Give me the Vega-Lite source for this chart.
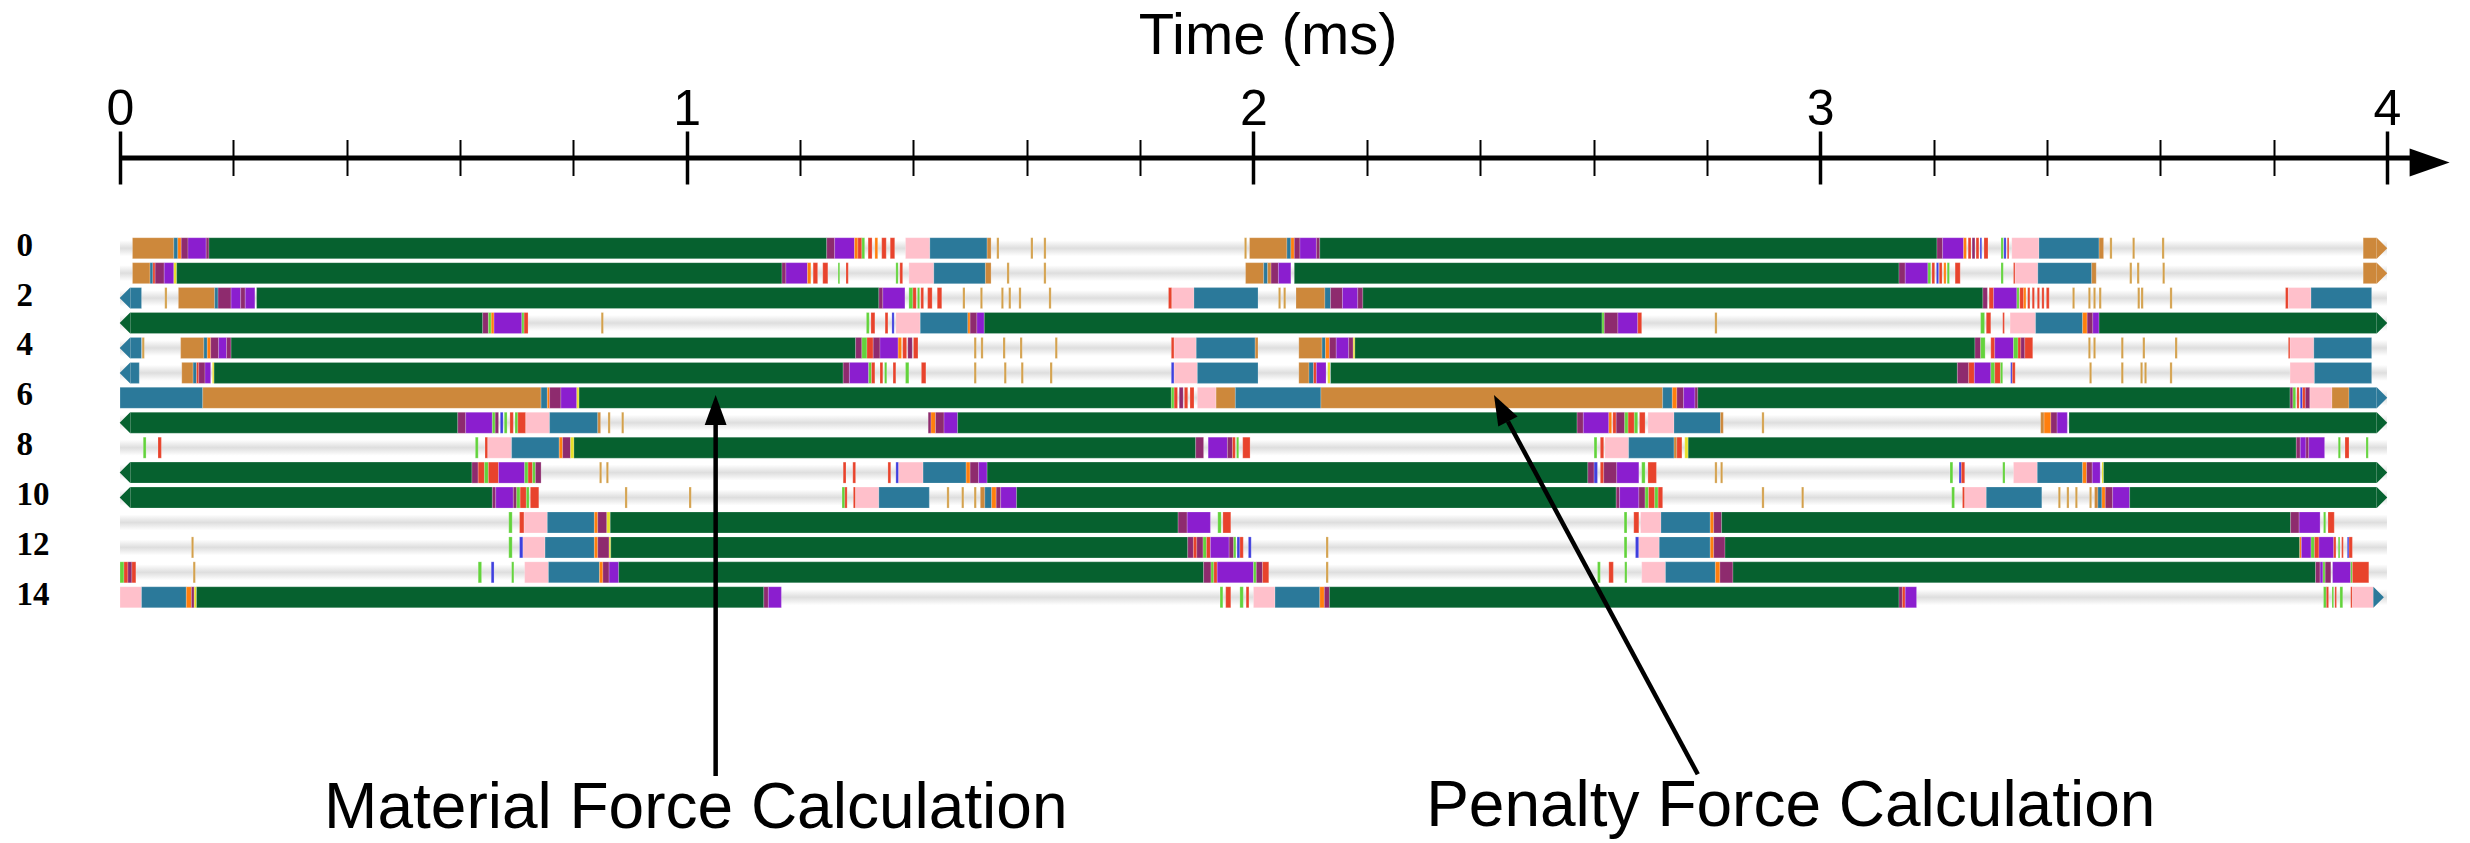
{
  "$schema": "https://vega.github.io/schema/vega-lite/v6.json",
  "width": 2295.3,
  "height": 685.5,
  "autosize": {"type": "none"},
  "padding": {"left": 120, "top": 157.5, "right": 54.7, "bottom": 0},
  "background": "white",
  "config": {"view": {"stroke": null}},
  "datasets": {
    "idle": [
      {"row": 0, "start": 0, "end": 4}, {"row": 1, "start": 0, "end": 4}, {"row": 2, "start": 0, "end": 4},
      {"row": 3, "start": 0, "end": 4}, {"row": 4, "start": 0, "end": 4}, {"row": 5, "start": 0, "end": 4},
      {"row": 6, "start": 0, "end": 4}, {"row": 7, "start": 0, "end": 4}, {"row": 8, "start": 0, "end": 4},
      {"row": 9, "start": 0, "end": 4}, {"row": 10, "start": 0, "end": 4}, {"row": 11, "start": 0, "end": 4},
      {"row": 12, "start": 0, "end": 4}, {"row": 13, "start": 0, "end": 4}, {"row": 14, "start": 0, "end": 4}
    ],
    "tips": [
      {"row": 2, "t": 0.018, "dir": "left", "kind": "teal"},
      {"row": 3, "t": 0.018, "dir": "left", "kind": "green"},
      {"row": 4, "t": 0.018, "dir": "left", "kind": "teal"},
      {"row": 5, "t": 0.018, "dir": "left", "kind": "teal"},
      {"row": 7, "t": 0.018, "dir": "left", "kind": "green"},
      {"row": 9, "t": 0.018, "dir": "left", "kind": "green"},
      {"row": 10, "t": 0.018, "dir": "left", "kind": "green"},
      {"row": 0, "t": 3.982, "dir": "right", "kind": "orange"},
      {"row": 1, "t": 3.982, "dir": "right", "kind": "orange"},
      {"row": 3, "t": 3.982, "dir": "right", "kind": "green"},
      {"row": 6, "t": 3.982, "dir": "right", "kind": "teal"},
      {"row": 7, "t": 3.982, "dir": "right", "kind": "green"},
      {"row": 9, "t": 3.982, "dir": "right", "kind": "green"},
      {"row": 10, "t": 3.982, "dir": "right", "kind": "green"},
      {"row": 14, "t": 3.976, "dir": "right", "kind": "teal"}
    ],
    "notes": [
      {"label": "Material Force Calculation", "tail_t": 1.051, "tail_r": 21.17, "head_t": 1.051, "head_r": 7.09, "text_t": 1.016, "text_r": 23.26},
      {"label": "Penalty Force Calculation", "tail_t": 2.784, "tail_r": 21.1, "head_t": 2.449, "head_r": 6.95, "text_t": 2.948, "text_r": 23.18}
    ],
    "segs": [
      {"row":0,"start":0.022,"end":0.095,"kind":"orange"},
      {"row":0,"start":0.095,"end":0.102,"kind":"teal"},
      {"row":0,"start":0.102,"end":0.108,"kind":"dorange"},
      {"row":0,"start":0.108,"end":0.120,"kind":"maroon"},
      {"row":0,"start":0.120,"end":0.152,"kind":"purple"},
      {"row":0,"start":0.152,"end":0.157,"kind":"maroon"},
      {"row":0,"start":0.157,"end":1.247,"kind":"green"},
      {"row":0,"start":1.247,"end":1.261,"kind":"maroon"},
      {"row":0,"start":1.261,"end":1.296,"kind":"purple"},
      {"row":0,"start":1.296,"end":1.302,"kind":"dorange"},
      {"row":0,"start":1.302,"end":1.309,"kind":"red"},
      {"row":0,"start":1.309,"end":1.314,"kind":"lime"},
      {"row":0,"start":1.320,"end":1.327,"kind":"red"},
      {"row":0,"start":1.332,"end":1.337,"kind":"dorange"},
      {"row":0,"start":1.344,"end":1.352,"kind":"red"},
      {"row":0,"start":1.359,"end":1.367,"kind":"red"},
      {"row":0,"start":1.386,"end":1.429,"kind":"pink"},
      {"row":0,"start":1.429,"end":1.530,"kind":"teal"},
      {"row":0,"start":1.530,"end":1.537,"kind":"orange"},
      {"row":0,"start":1.547,"end":1.551,"kind":"stick"},
      {"row":0,"start":1.607,"end":1.611,"kind":"stick"},
      {"row":0,"start":1.630,"end":1.634,"kind":"stick"},
      {"row":0,"start":1.984,"end":1.988,"kind":"stick"},
      {"row":0,"start":1.993,"end":2.059,"kind":"orange"},
      {"row":0,"start":2.059,"end":2.066,"kind":"teal"},
      {"row":0,"start":2.066,"end":2.072,"kind":"dorange"},
      {"row":0,"start":2.072,"end":2.082,"kind":"maroon"},
      {"row":0,"start":2.082,"end":2.111,"kind":"purple"},
      {"row":0,"start":2.111,"end":2.117,"kind":"maroon"},
      {"row":0,"start":2.117,"end":3.206,"kind":"green"},
      {"row":0,"start":3.206,"end":3.216,"kind":"maroon"},
      {"row":0,"start":3.216,"end":3.253,"kind":"purple"},
      {"row":0,"start":3.253,"end":3.258,"kind":"dorange"},
      {"row":0,"start":3.261,"end":3.266,"kind":"red"},
      {"row":0,"start":3.268,"end":3.273,"kind":"maroon"},
      {"row":0,"start":3.275,"end":3.280,"kind":"red"},
      {"row":0,"start":3.282,"end":3.285,"kind":"blue"},
      {"row":0,"start":3.289,"end":3.296,"kind":"red"},
      {"row":0,"start":3.319,"end":3.323,"kind":"lime"},
      {"row":0,"start":3.324,"end":3.328,"kind":"blue"},
      {"row":0,"start":3.330,"end":3.333,"kind":"red"},
      {"row":0,"start":3.338,"end":3.386,"kind":"pink"},
      {"row":0,"start":3.386,"end":3.492,"kind":"teal"},
      {"row":0,"start":3.492,"end":3.500,"kind":"orange"},
      {"row":0,"start":3.511,"end":3.515,"kind":"stick"},
      {"row":0,"start":3.551,"end":3.555,"kind":"stick"},
      {"row":0,"start":3.603,"end":3.607,"kind":"stick"},
      {"row":0,"start":3.958,"end":3.982,"kind":"orange"},

      {"row":1,"start":0.022,"end":0.053,"kind":"orange"},
      {"row":1,"start":0.053,"end":0.058,"kind":"teal"},
      {"row":1,"start":0.058,"end":0.062,"kind":"red"},
      {"row":1,"start":0.062,"end":0.078,"kind":"maroon"},
      {"row":1,"start":0.078,"end":0.095,"kind":"purple"},
      {"row":1,"start":0.095,"end":0.100,"kind":"yellow"},
      {"row":1,"start":0.100,"end":1.168,"kind":"green"},
      {"row":1,"start":1.168,"end":1.175,"kind":"maroon"},
      {"row":1,"start":1.175,"end":1.213,"kind":"purple"},
      {"row":1,"start":1.213,"end":1.219,"kind":"dorange"},
      {"row":1,"start":1.223,"end":1.231,"kind":"red"},
      {"row":1,"start":1.240,"end":1.249,"kind":"red"},
      {"row":1,"start":1.267,"end":1.270,"kind":"lime"},
      {"row":1,"start":1.281,"end":1.285,"kind":"red"},
      {"row":1,"start":1.369,"end":1.373,"kind":"lime"},
      {"row":1,"start":1.376,"end":1.381,"kind":"red"},
      {"row":1,"start":1.392,"end":1.436,"kind":"pink"},
      {"row":1,"start":1.436,"end":1.527,"kind":"teal"},
      {"row":1,"start":1.527,"end":1.537,"kind":"orange"},
      {"row":1,"start":1.565,"end":1.569,"kind":"stick"},
      {"row":1,"start":1.630,"end":1.634,"kind":"stick"},
      {"row":1,"start":1.986,"end":2.018,"kind":"orange"},
      {"row":1,"start":2.018,"end":2.025,"kind":"teal"},
      {"row":1,"start":2.025,"end":2.031,"kind":"orange"},
      {"row":1,"start":2.031,"end":2.044,"kind":"maroon"},
      {"row":1,"start":2.044,"end":2.066,"kind":"purple"},
      {"row":1,"start":2.072,"end":3.139,"kind":"green"},
      {"row":1,"start":3.139,"end":3.150,"kind":"maroon"},
      {"row":1,"start":3.150,"end":3.190,"kind":"purple"},
      {"row":1,"start":3.190,"end":3.195,"kind":"lime"},
      {"row":1,"start":3.197,"end":3.202,"kind":"red"},
      {"row":1,"start":3.205,"end":3.209,"kind":"blue"},
      {"row":1,"start":3.210,"end":3.215,"kind":"red"},
      {"row":1,"start":3.218,"end":3.222,"kind":"dorange"},
      {"row":1,"start":3.224,"end":3.228,"kind":"lime"},
      {"row":1,"start":3.238,"end":3.247,"kind":"red"},
      {"row":1,"start":3.319,"end":3.323,"kind":"lime"},
      {"row":1,"start":3.341,"end":3.344,"kind":"red"},
      {"row":1,"start":3.344,"end":3.384,"kind":"pink"},
      {"row":1,"start":3.384,"end":3.479,"kind":"teal"},
      {"row":1,"start":3.479,"end":3.487,"kind":"orange"},
      {"row":1,"start":3.546,"end":3.550,"kind":"stick"},
      {"row":1,"start":3.559,"end":3.563,"kind":"stick"},
      {"row":1,"start":3.604,"end":3.608,"kind":"stick"},
      {"row":1,"start":3.958,"end":3.982,"kind":"orange"},

      {"row":2,"start":0.018,"end":0.038,"kind":"teal"},
      {"row":2,"start":0.079,"end":0.083,"kind":"stick"},
      {"row":2,"start":0.103,"end":0.167,"kind":"orange"},
      {"row":2,"start":0.167,"end":0.173,"kind":"teal"},
      {"row":2,"start":0.173,"end":0.196,"kind":"maroon"},
      {"row":2,"start":0.196,"end":0.213,"kind":"purple"},
      {"row":2,"start":0.213,"end":0.221,"kind":"maroon"},
      {"row":2,"start":0.221,"end":0.238,"kind":"purple"},
      {"row":2,"start":0.241,"end":1.339,"kind":"green"},
      {"row":2,"start":1.339,"end":1.346,"kind":"maroon"},
      {"row":2,"start":1.346,"end":1.385,"kind":"purple"},
      {"row":2,"start":1.392,"end":1.399,"kind":"lime"},
      {"row":2,"start":1.399,"end":1.405,"kind":"red"},
      {"row":2,"start":1.407,"end":1.411,"kind":"lime"},
      {"row":2,"start":1.413,"end":1.418,"kind":"red"},
      {"row":2,"start":1.425,"end":1.433,"kind":"red"},
      {"row":2,"start":1.442,"end":1.450,"kind":"red"},
      {"row":2,"start":1.487,"end":1.491,"kind":"stick"},
      {"row":2,"start":1.518,"end":1.522,"kind":"stick"},
      {"row":2,"start":1.555,"end":1.559,"kind":"stick"},
      {"row":2,"start":1.568,"end":1.572,"kind":"stick"},
      {"row":2,"start":1.586,"end":1.590,"kind":"stick"},
      {"row":2,"start":1.639,"end":1.643,"kind":"stick"},
      {"row":2,"start":1.850,"end":1.856,"kind":"red"},
      {"row":2,"start":1.856,"end":1.895,"kind":"pink"},
      {"row":2,"start":1.895,"end":2.008,"kind":"teal"},
      {"row":2,"start":2.044,"end":2.048,"kind":"stick"},
      {"row":2,"start":2.053,"end":2.057,"kind":"stick"},
      {"row":2,"start":2.075,"end":2.126,"kind":"orange"},
      {"row":2,"start":2.126,"end":2.136,"kind":"teal"},
      {"row":2,"start":2.136,"end":2.157,"kind":"maroon"},
      {"row":2,"start":2.157,"end":2.184,"kind":"purple"},
      {"row":2,"start":2.184,"end":2.193,"kind":"maroon"},
      {"row":2,"start":2.193,"end":3.287,"kind":"green"},
      {"row":2,"start":3.287,"end":3.295,"kind":"maroon"},
      {"row":2,"start":3.298,"end":3.306,"kind":"red"},
      {"row":2,"start":3.306,"end":3.347,"kind":"purple"},
      {"row":2,"start":3.347,"end":3.351,"kind":"lime"},
      {"row":2,"start":3.352,"end":3.359,"kind":"red"},
      {"row":2,"start":3.359,"end":3.363,"kind":"dorange"},
      {"row":2,"start":3.366,"end":3.370,"kind":"red"},
      {"row":2,"start":3.374,"end":3.378,"kind":"red"},
      {"row":2,"start":3.383,"end":3.387,"kind":"red"},
      {"row":2,"start":3.391,"end":3.395,"kind":"red"},
      {"row":2,"start":3.399,"end":3.404,"kind":"red"},
      {"row":2,"start":3.445,"end":3.449,"kind":"stick"},
      {"row":2,"start":3.473,"end":3.477,"kind":"stick"},
      {"row":2,"start":3.482,"end":3.486,"kind":"stick"},
      {"row":2,"start":3.492,"end":3.496,"kind":"stick"},
      {"row":2,"start":3.560,"end":3.564,"kind":"stick"},
      {"row":2,"start":3.566,"end":3.570,"kind":"stick"},
      {"row":2,"start":3.617,"end":3.621,"kind":"stick"},
      {"row":2,"start":3.821,"end":3.826,"kind":"red"},
      {"row":2,"start":3.826,"end":3.866,"kind":"pink"},
      {"row":2,"start":3.866,"end":3.973,"kind":"teal"},

      {"row":3,"start":0.018,"end":0.640,"kind":"green"},
      {"row":3,"start":0.640,"end":0.650,"kind":"maroon"},
      {"row":3,"start":0.650,"end":0.655,"kind":"lime"},
      {"row":3,"start":0.655,"end":0.660,"kind":"dorange"},
      {"row":3,"start":0.660,"end":0.709,"kind":"purple"},
      {"row":3,"start":0.709,"end":0.713,"kind":"lime"},
      {"row":3,"start":0.713,"end":0.720,"kind":"red"},
      {"row":3,"start":0.849,"end":0.853,"kind":"stick"},
      {"row":3,"start":1.317,"end":1.322,"kind":"lime"},
      {"row":3,"start":1.325,"end":1.332,"kind":"red"},
      {"row":3,"start":1.350,"end":1.355,"kind":"red"},
      {"row":3,"start":1.362,"end":1.366,"kind":"blue"},
      {"row":3,"start":1.369,"end":1.412,"kind":"pink"},
      {"row":3,"start":1.412,"end":1.496,"kind":"teal"},
      {"row":3,"start":1.496,"end":1.500,"kind":"dorange"},
      {"row":3,"start":1.500,"end":1.512,"kind":"maroon"},
      {"row":3,"start":1.512,"end":1.525,"kind":"purple"},
      {"row":3,"start":1.525,"end":2.615,"kind":"green"},
      {"row":3,"start":2.615,"end":2.619,"kind":"lime"},
      {"row":3,"start":2.619,"end":2.643,"kind":"maroon"},
      {"row":3,"start":2.643,"end":2.678,"kind":"purple"},
      {"row":3,"start":2.678,"end":2.685,"kind":"red"},
      {"row":3,"start":2.814,"end":2.818,"kind":"stick"},
      {"row":3,"start":3.283,"end":3.290,"kind":"lime"},
      {"row":3,"start":3.293,"end":3.301,"kind":"red"},
      {"row":3,"start":3.322,"end":3.325,"kind":"red"},
      {"row":3,"start":3.335,"end":3.380,"kind":"pink"},
      {"row":3,"start":3.380,"end":3.463,"kind":"teal"},
      {"row":3,"start":3.463,"end":3.471,"kind":"dorange"},
      {"row":3,"start":3.471,"end":3.481,"kind":"maroon"},
      {"row":3,"start":3.481,"end":3.492,"kind":"purple"},
      {"row":3,"start":3.492,"end":3.982,"kind":"green"},

      {"row":4,"start":0.018,"end":0.038,"kind":"teal"},
      {"row":4,"start":0.039,"end":0.043,"kind":"stick"},
      {"row":4,"start":0.107,"end":0.148,"kind":"orange"},
      {"row":4,"start":0.148,"end":0.154,"kind":"teal"},
      {"row":4,"start":0.154,"end":0.160,"kind":"dorange"},
      {"row":4,"start":0.160,"end":0.174,"kind":"maroon"},
      {"row":4,"start":0.174,"end":0.188,"kind":"purple"},
      {"row":4,"start":0.188,"end":0.196,"kind":"maroon"},
      {"row":4,"start":0.196,"end":1.298,"kind":"green"},
      {"row":4,"start":1.298,"end":1.309,"kind":"maroon"},
      {"row":4,"start":1.309,"end":1.318,"kind":"lime"},
      {"row":4,"start":1.318,"end":1.329,"kind":"red"},
      {"row":4,"start":1.329,"end":1.341,"kind":"maroon"},
      {"row":4,"start":1.341,"end":1.373,"kind":"purple"},
      {"row":4,"start":1.373,"end":1.379,"kind":"dorange"},
      {"row":4,"start":1.381,"end":1.388,"kind":"red"},
      {"row":4,"start":1.390,"end":1.398,"kind":"maroon"},
      {"row":4,"start":1.400,"end":1.408,"kind":"red"},
      {"row":4,"start":1.507,"end":1.511,"kind":"stick"},
      {"row":4,"start":1.519,"end":1.523,"kind":"stick"},
      {"row":4,"start":1.558,"end":1.562,"kind":"stick"},
      {"row":4,"start":1.588,"end":1.592,"kind":"stick"},
      {"row":4,"start":1.650,"end":1.654,"kind":"stick"},
      {"row":4,"start":1.855,"end":1.860,"kind":"red"},
      {"row":4,"start":1.860,"end":1.899,"kind":"pink"},
      {"row":4,"start":1.899,"end":2.003,"kind":"teal"},
      {"row":4,"start":2.003,"end":2.008,"kind":"orange"},
      {"row":4,"start":2.080,"end":2.121,"kind":"orange"},
      {"row":4,"start":2.121,"end":2.127,"kind":"teal"},
      {"row":4,"start":2.127,"end":2.134,"kind":"dorange"},
      {"row":4,"start":2.134,"end":2.146,"kind":"maroon"},
      {"row":4,"start":2.146,"end":2.168,"kind":"purple"},
      {"row":4,"start":2.168,"end":2.176,"kind":"maroon"},
      {"row":4,"start":2.176,"end":2.179,"kind":"yellow"},
      {"row":4,"start":2.179,"end":3.273,"kind":"green"},
      {"row":4,"start":3.273,"end":3.283,"kind":"maroon"},
      {"row":4,"start":3.283,"end":3.291,"kind":"lime"},
      {"row":4,"start":3.301,"end":3.308,"kind":"red"},
      {"row":4,"start":3.308,"end":3.341,"kind":"purple"},
      {"row":4,"start":3.341,"end":3.349,"kind":"lime"},
      {"row":4,"start":3.349,"end":3.354,"kind":"red"},
      {"row":4,"start":3.354,"end":3.361,"kind":"maroon"},
      {"row":4,"start":3.361,"end":3.375,"kind":"red"},
      {"row":4,"start":3.473,"end":3.477,"kind":"stick"},
      {"row":4,"start":3.482,"end":3.486,"kind":"stick"},
      {"row":4,"start":3.531,"end":3.535,"kind":"stick"},
      {"row":4,"start":3.569,"end":3.573,"kind":"stick"},
      {"row":4,"start":3.626,"end":3.630,"kind":"stick"},
      {"row":4,"start":3.826,"end":3.829,"kind":"red"},
      {"row":4,"start":3.829,"end":3.871,"kind":"pink"},
      {"row":4,"start":3.871,"end":3.973,"kind":"teal"},

      {"row":5,"start":0.018,"end":0.034,"kind":"teal"},
      {"row":5,"start":0.109,"end":0.129,"kind":"orange"},
      {"row":5,"start":0.129,"end":0.135,"kind":"teal"},
      {"row":5,"start":0.135,"end":0.139,"kind":"red"},
      {"row":5,"start":0.139,"end":0.150,"kind":"maroon"},
      {"row":5,"start":0.150,"end":0.160,"kind":"purple"},
      {"row":5,"start":0.163,"end":0.166,"kind":"yellow"},
      {"row":5,"start":0.166,"end":1.276,"kind":"green"},
      {"row":5,"start":1.276,"end":1.287,"kind":"maroon"},
      {"row":5,"start":1.287,"end":1.321,"kind":"purple"},
      {"row":5,"start":1.321,"end":1.326,"kind":"lime"},
      {"row":5,"start":1.326,"end":1.332,"kind":"red"},
      {"row":5,"start":1.341,"end":1.346,"kind":"red"},
      {"row":5,"start":1.349,"end":1.353,"kind":"lime"},
      {"row":5,"start":1.364,"end":1.369,"kind":"red"},
      {"row":5,"start":1.386,"end":1.392,"kind":"lime"},
      {"row":5,"start":1.414,"end":1.422,"kind":"red"},
      {"row":5,"start":1.507,"end":1.511,"kind":"stick"},
      {"row":5,"start":1.560,"end":1.564,"kind":"stick"},
      {"row":5,"start":1.590,"end":1.594,"kind":"stick"},
      {"row":5,"start":1.641,"end":1.645,"kind":"stick"},
      {"row":5,"start":1.855,"end":1.860,"kind":"blue"},
      {"row":5,"start":1.860,"end":1.901,"kind":"pink"},
      {"row":5,"start":1.901,"end":2.008,"kind":"teal"},
      {"row":5,"start":2.080,"end":2.098,"kind":"orange"},
      {"row":5,"start":2.098,"end":2.106,"kind":"teal"},
      {"row":5,"start":2.106,"end":2.111,"kind":"red"},
      {"row":5,"start":2.111,"end":2.128,"kind":"purple"},
      {"row":5,"start":2.131,"end":2.135,"kind":"yellow"},
      {"row":5,"start":2.136,"end":3.242,"kind":"green"},
      {"row":5,"start":3.242,"end":3.262,"kind":"maroon"},
      {"row":5,"start":3.262,"end":3.272,"kind":"red"},
      {"row":5,"start":3.272,"end":3.301,"kind":"purple"},
      {"row":5,"start":3.301,"end":3.308,"kind":"lime"},
      {"row":5,"start":3.308,"end":3.318,"kind":"red"},
      {"row":5,"start":3.318,"end":3.322,"kind":"lime"},
      {"row":5,"start":3.336,"end":3.339,"kind":"blue"},
      {"row":5,"start":3.339,"end":3.344,"kind":"red"},
      {"row":5,"start":3.475,"end":3.479,"kind":"stick"},
      {"row":5,"start":3.531,"end":3.535,"kind":"stick"},
      {"row":5,"start":3.565,"end":3.569,"kind":"stick"},
      {"row":5,"start":3.572,"end":3.576,"kind":"stick"},
      {"row":5,"start":3.617,"end":3.621,"kind":"stick"},
      {"row":5,"start":3.829,"end":3.872,"kind":"pink"},
      {"row":5,"start":3.872,"end":3.973,"kind":"teal"},

      {"row":6,"start":0.000,"end":0.146,"kind":"teal"},
      {"row":6,"start":0.146,"end":0.743,"kind":"orange"},
      {"row":6,"start":0.743,"end":0.754,"kind":"teal"},
      {"row":6,"start":0.754,"end":0.758,"kind":"dorange"},
      {"row":6,"start":0.758,"end":0.778,"kind":"maroon"},
      {"row":6,"start":0.778,"end":0.806,"kind":"purple"},
      {"row":6,"start":0.806,"end":0.810,"kind":"yellow"},
      {"row":6,"start":0.810,"end":1.855,"kind":"green"},
      {"row":6,"start":1.855,"end":1.860,"kind":"lime"},
      {"row":6,"start":1.860,"end":1.866,"kind":"red"},
      {"row":6,"start":1.869,"end":1.876,"kind":"maroon"},
      {"row":6,"start":1.878,"end":1.884,"kind":"red"},
      {"row":6,"start":1.888,"end":1.895,"kind":"red"},
      {"row":6,"start":1.901,"end":1.934,"kind":"pink"},
      {"row":6,"start":1.934,"end":1.968,"kind":"orange"},
      {"row":6,"start":1.968,"end":2.119,"kind":"teal"},
      {"row":6,"start":2.119,"end":2.722,"kind":"orange"},
      {"row":6,"start":2.722,"end":2.739,"kind":"teal"},
      {"row":6,"start":2.739,"end":2.747,"kind":"dorange"},
      {"row":6,"start":2.747,"end":2.759,"kind":"maroon"},
      {"row":6,"start":2.759,"end":2.779,"kind":"purple"},
      {"row":6,"start":2.779,"end":2.784,"kind":"maroon"},
      {"row":6,"start":2.784,"end":3.829,"kind":"green"},
      {"row":6,"start":3.829,"end":3.834,"kind":"maroon"},
      {"row":6,"start":3.834,"end":3.839,"kind":"lime"},
      {"row":6,"start":3.841,"end":3.845,"kind":"red"},
      {"row":6,"start":3.847,"end":3.851,"kind":"blue"},
      {"row":6,"start":3.851,"end":3.856,"kind":"red"},
      {"row":6,"start":3.856,"end":3.864,"kind":"maroon"},
      {"row":6,"start":3.864,"end":3.903,"kind":"pink"},
      {"row":6,"start":3.903,"end":3.933,"kind":"orange"},
      {"row":6,"start":3.933,"end":3.982,"kind":"teal"},

      {"row":7,"start":0.018,"end":0.596,"kind":"green"},
      {"row":7,"start":0.596,"end":0.610,"kind":"maroon"},
      {"row":7,"start":0.610,"end":0.657,"kind":"purple"},
      {"row":7,"start":0.657,"end":0.662,"kind":"lime"},
      {"row":7,"start":0.662,"end":0.668,"kind":"maroon"},
      {"row":7,"start":0.671,"end":0.676,"kind":"blue"},
      {"row":7,"start":0.678,"end":0.683,"kind":"lime"},
      {"row":7,"start":0.688,"end":0.694,"kind":"red"},
      {"row":7,"start":0.697,"end":0.702,"kind":"lime"},
      {"row":7,"start":0.702,"end":0.716,"kind":"red"},
      {"row":7,"start":0.716,"end":0.758,"kind":"pink"},
      {"row":7,"start":0.758,"end":0.843,"kind":"teal"},
      {"row":7,"start":0.843,"end":0.848,"kind":"orange"},
      {"row":7,"start":0.861,"end":0.865,"kind":"stick"},
      {"row":7,"start":0.885,"end":0.889,"kind":"stick"},
      {"row":7,"start":1.426,"end":1.431,"kind":"maroon"},
      {"row":7,"start":1.431,"end":1.439,"kind":"dorange"},
      {"row":7,"start":1.439,"end":1.454,"kind":"maroon"},
      {"row":7,"start":1.454,"end":1.478,"kind":"purple"},
      {"row":7,"start":1.478,"end":2.571,"kind":"green"},
      {"row":7,"start":2.571,"end":2.582,"kind":"maroon"},
      {"row":7,"start":2.582,"end":2.627,"kind":"purple"},
      {"row":7,"start":2.627,"end":2.632,"kind":"dorange"},
      {"row":7,"start":2.634,"end":2.640,"kind":"red"},
      {"row":7,"start":2.640,"end":2.655,"kind":"maroon"},
      {"row":7,"start":2.655,"end":2.661,"kind":"lime"},
      {"row":7,"start":2.661,"end":2.672,"kind":"red"},
      {"row":7,"start":2.672,"end":2.678,"kind":"lime"},
      {"row":7,"start":2.681,"end":2.691,"kind":"red"},
      {"row":7,"start":2.696,"end":2.742,"kind":"pink"},
      {"row":7,"start":2.742,"end":2.824,"kind":"teal"},
      {"row":7,"start":2.824,"end":2.829,"kind":"orange"},
      {"row":7,"start":2.897,"end":2.901,"kind":"stick"},
      {"row":7,"start":3.389,"end":3.395,"kind":"orange"},
      {"row":7,"start":3.395,"end":3.407,"kind":"dorange"},
      {"row":7,"start":3.407,"end":3.418,"kind":"maroon"},
      {"row":7,"start":3.418,"end":3.436,"kind":"purple"},
      {"row":7,"start":3.439,"end":3.982,"kind":"green"},

      {"row":8,"start":0.041,"end":0.046,"kind":"lime"},
      {"row":8,"start":0.067,"end":0.073,"kind":"red"},
      {"row":8,"start":0.627,"end":0.632,"kind":"lime"},
      {"row":8,"start":0.644,"end":0.649,"kind":"red"},
      {"row":8,"start":0.649,"end":0.691,"kind":"pink"},
      {"row":8,"start":0.691,"end":0.775,"kind":"teal"},
      {"row":8,"start":0.775,"end":0.781,"kind":"dorange"},
      {"row":8,"start":0.781,"end":0.795,"kind":"maroon"},
      {"row":8,"start":0.795,"end":0.801,"kind":"yellow"},
      {"row":8,"start":0.801,"end":1.898,"kind":"green"},
      {"row":8,"start":1.898,"end":1.912,"kind":"maroon"},
      {"row":8,"start":1.920,"end":1.954,"kind":"purple"},
      {"row":8,"start":1.954,"end":1.963,"kind":"maroon"},
      {"row":8,"start":1.963,"end":1.968,"kind":"red"},
      {"row":8,"start":1.970,"end":1.974,"kind":"lime"},
      {"row":8,"start":1.981,"end":1.994,"kind":"red"},
      {"row":8,"start":2.601,"end":2.606,"kind":"lime"},
      {"row":8,"start":2.612,"end":2.618,"kind":"red"},
      {"row":8,"start":2.620,"end":2.662,"kind":"pink"},
      {"row":8,"start":2.662,"end":2.742,"kind":"teal"},
      {"row":8,"start":2.742,"end":2.747,"kind":"orange"},
      {"row":8,"start":2.747,"end":2.756,"kind":"red"},
      {"row":8,"start":2.761,"end":2.767,"kind":"yellow"},
      {"row":8,"start":2.767,"end":3.840,"kind":"green"},
      {"row":8,"start":3.840,"end":3.847,"kind":"maroon"},
      {"row":8,"start":3.847,"end":3.857,"kind":"purple"},
      {"row":8,"start":3.857,"end":3.862,"kind":"maroon"},
      {"row":8,"start":3.862,"end":3.890,"kind":"purple"},
      {"row":8,"start":3.914,"end":3.918,"kind":"lime"},
      {"row":8,"start":3.926,"end":3.933,"kind":"red"},
      {"row":8,"start":3.963,"end":3.967,"kind":"lime"},

      {"row":9,"start":0.018,"end":0.621,"kind":"green"},
      {"row":9,"start":0.621,"end":0.632,"kind":"maroon"},
      {"row":9,"start":0.632,"end":0.643,"kind":"red"},
      {"row":9,"start":0.643,"end":0.650,"kind":"lime"},
      {"row":9,"start":0.650,"end":0.668,"kind":"red"},
      {"row":9,"start":0.668,"end":0.714,"kind":"purple"},
      {"row":9,"start":0.714,"end":0.720,"kind":"lime"},
      {"row":9,"start":0.720,"end":0.728,"kind":"red"},
      {"row":9,"start":0.728,"end":0.733,"kind":"lime"},
      {"row":9,"start":0.733,"end":0.743,"kind":"maroon"},
      {"row":9,"start":0.846,"end":0.850,"kind":"stick"},
      {"row":9,"start":0.858,"end":0.862,"kind":"stick"},
      {"row":9,"start":1.276,"end":1.281,"kind":"red"},
      {"row":9,"start":1.293,"end":1.298,"kind":"red"},
      {"row":9,"start":1.355,"end":1.360,"kind":"red"},
      {"row":9,"start":1.369,"end":1.374,"kind":"blue"},
      {"row":9,"start":1.374,"end":1.417,"kind":"pink"},
      {"row":9,"start":1.417,"end":1.493,"kind":"teal"},
      {"row":9,"start":1.493,"end":1.500,"kind":"dorange"},
      {"row":9,"start":1.500,"end":1.515,"kind":"maroon"},
      {"row":9,"start":1.515,"end":1.530,"kind":"purple"},
      {"row":9,"start":1.530,"end":2.590,"kind":"green"},
      {"row":9,"start":2.590,"end":2.601,"kind":"maroon"},
      {"row":9,"start":2.601,"end":2.607,"kind":"blue"},
      {"row":9,"start":2.612,"end":2.618,"kind":"red"},
      {"row":9,"start":2.618,"end":2.641,"kind":"maroon"},
      {"row":9,"start":2.641,"end":2.680,"kind":"purple"},
      {"row":9,"start":2.685,"end":2.691,"kind":"lime"},
      {"row":9,"start":2.696,"end":2.711,"kind":"red"},
      {"row":9,"start":2.814,"end":2.818,"kind":"stick"},
      {"row":9,"start":2.824,"end":2.828,"kind":"stick"},
      {"row":9,"start":3.229,"end":3.234,"kind":"lime"},
      {"row":9,"start":3.245,"end":3.249,"kind":"blue"},
      {"row":9,"start":3.249,"end":3.255,"kind":"red"},
      {"row":9,"start":3.322,"end":3.326,"kind":"lime"},
      {"row":9,"start":3.341,"end":3.383,"kind":"pink"},
      {"row":9,"start":3.383,"end":3.463,"kind":"teal"},
      {"row":9,"start":3.463,"end":3.470,"kind":"dorange"},
      {"row":9,"start":3.470,"end":3.480,"kind":"maroon"},
      {"row":9,"start":3.480,"end":3.494,"kind":"purple"},
      {"row":9,"start":3.497,"end":3.500,"kind":"yellow"},
      {"row":9,"start":3.500,"end":3.982,"kind":"green"},

      {"row":10,"start":0.018,"end":0.657,"kind":"green"},
      {"row":10,"start":0.657,"end":0.663,"kind":"maroon"},
      {"row":10,"start":0.663,"end":0.694,"kind":"purple"},
      {"row":10,"start":0.694,"end":0.700,"kind":"maroon"},
      {"row":10,"start":0.700,"end":0.706,"kind":"lime"},
      {"row":10,"start":0.706,"end":0.717,"kind":"red"},
      {"row":10,"start":0.717,"end":0.722,"kind":"lime"},
      {"row":10,"start":0.724,"end":0.739,"kind":"red"},
      {"row":10,"start":0.891,"end":0.895,"kind":"stick"},
      {"row":10,"start":1.004,"end":1.008,"kind":"stick"},
      {"row":10,"start":1.274,"end":1.279,"kind":"lime"},
      {"row":10,"start":1.279,"end":1.283,"kind":"red"},
      {"row":10,"start":1.294,"end":1.298,"kind":"red"},
      {"row":10,"start":1.298,"end":1.339,"kind":"pink"},
      {"row":10,"start":1.339,"end":1.428,"kind":"teal"},
      {"row":10,"start":1.459,"end":1.463,"kind":"stick"},
      {"row":10,"start":1.485,"end":1.489,"kind":"stick"},
      {"row":10,"start":1.507,"end":1.511,"kind":"stick"},
      {"row":10,"start":1.518,"end":1.526,"kind":"orange"},
      {"row":10,"start":1.526,"end":1.538,"kind":"teal"},
      {"row":10,"start":1.538,"end":1.546,"kind":"dorange"},
      {"row":10,"start":1.546,"end":1.554,"kind":"maroon"},
      {"row":10,"start":1.554,"end":1.582,"kind":"purple"},
      {"row":10,"start":1.582,"end":2.640,"kind":"green"},
      {"row":10,"start":2.640,"end":2.646,"kind":"maroon"},
      {"row":10,"start":2.646,"end":2.680,"kind":"purple"},
      {"row":10,"start":2.680,"end":2.691,"kind":"maroon"},
      {"row":10,"start":2.691,"end":2.697,"kind":"lime"},
      {"row":10,"start":2.697,"end":2.708,"kind":"red"},
      {"row":10,"start":2.708,"end":2.714,"kind":"lime"},
      {"row":10,"start":2.714,"end":2.722,"kind":"red"},
      {"row":10,"start":2.897,"end":2.901,"kind":"stick"},
      {"row":10,"start":2.967,"end":2.971,"kind":"stick"},
      {"row":10,"start":3.232,"end":3.237,"kind":"lime"},
      {"row":10,"start":3.251,"end":3.255,"kind":"red"},
      {"row":10,"start":3.255,"end":3.293,"kind":"pink"},
      {"row":10,"start":3.293,"end":3.391,"kind":"teal"},
      {"row":10,"start":3.420,"end":3.424,"kind":"stick"},
      {"row":10,"start":3.435,"end":3.439,"kind":"stick"},
      {"row":10,"start":3.450,"end":3.454,"kind":"stick"},
      {"row":10,"start":3.475,"end":3.479,"kind":"stick"},
      {"row":10,"start":3.484,"end":3.490,"kind":"orange"},
      {"row":10,"start":3.490,"end":3.497,"kind":"teal"},
      {"row":10,"start":3.497,"end":3.503,"kind":"dorange"},
      {"row":10,"start":3.503,"end":3.516,"kind":"maroon"},
      {"row":10,"start":3.516,"end":3.546,"kind":"purple"},
      {"row":10,"start":3.546,"end":3.982,"kind":"green"},

      {"row":11,"start":0.686,"end":0.692,"kind":"lime"},
      {"row":11,"start":0.705,"end":0.713,"kind":"red"},
      {"row":11,"start":0.713,"end":0.754,"kind":"pink"},
      {"row":11,"start":0.754,"end":0.837,"kind":"teal"},
      {"row":11,"start":0.837,"end":0.843,"kind":"dorange"},
      {"row":11,"start":0.843,"end":0.859,"kind":"maroon"},
      {"row":11,"start":0.859,"end":0.865,"kind":"yellow"},
      {"row":11,"start":0.865,"end":1.867,"kind":"green"},
      {"row":11,"start":1.867,"end":1.883,"kind":"maroon"},
      {"row":11,"start":1.883,"end":1.924,"kind":"purple"},
      {"row":11,"start":1.937,"end":1.943,"kind":"lime"},
      {"row":11,"start":1.946,"end":1.960,"kind":"red"},
      {"row":11,"start":2.654,"end":2.659,"kind":"lime"},
      {"row":11,"start":2.671,"end":2.680,"kind":"red"},
      {"row":11,"start":2.683,"end":2.719,"kind":"pink"},
      {"row":11,"start":2.719,"end":2.806,"kind":"teal"},
      {"row":11,"start":2.806,"end":2.812,"kind":"dorange"},
      {"row":11,"start":2.812,"end":2.826,"kind":"maroon"},
      {"row":11,"start":2.826,"end":3.830,"kind":"green"},
      {"row":11,"start":3.830,"end":3.845,"kind":"maroon"},
      {"row":11,"start":3.845,"end":3.882,"kind":"purple"},
      {"row":11,"start":3.888,"end":3.892,"kind":"lime"},
      {"row":11,"start":3.896,"end":3.907,"kind":"red"},

      {"row":12,"start":0.126,"end":0.130,"kind":"stick"},
      {"row":12,"start":0.686,"end":0.692,"kind":"lime"},
      {"row":12,"start":0.705,"end":0.711,"kind":"blue"},
      {"row":12,"start":0.711,"end":0.750,"kind":"pink"},
      {"row":12,"start":0.750,"end":0.837,"kind":"teal"},
      {"row":12,"start":0.837,"end":0.843,"kind":"dorange"},
      {"row":12,"start":0.843,"end":0.863,"kind":"maroon"},
      {"row":12,"start":0.863,"end":0.866,"kind":"yellow"},
      {"row":12,"start":0.866,"end":1.884,"kind":"green"},
      {"row":12,"start":1.884,"end":1.894,"kind":"maroon"},
      {"row":12,"start":1.894,"end":1.900,"kind":"red"},
      {"row":12,"start":1.900,"end":1.911,"kind":"maroon"},
      {"row":12,"start":1.911,"end":1.917,"kind":"lime"},
      {"row":12,"start":1.917,"end":1.924,"kind":"red"},
      {"row":12,"start":1.924,"end":1.957,"kind":"purple"},
      {"row":12,"start":1.957,"end":1.965,"kind":"maroon"},
      {"row":12,"start":1.965,"end":1.969,"kind":"lime"},
      {"row":12,"start":1.971,"end":1.976,"kind":"blue"},
      {"row":12,"start":1.976,"end":1.982,"kind":"red"},
      {"row":12,"start":1.991,"end":1.996,"kind":"blue"},
      {"row":12,"start":2.128,"end":2.132,"kind":"stick"},
      {"row":12,"start":2.654,"end":2.659,"kind":"lime"},
      {"row":12,"start":2.674,"end":2.680,"kind":"blue"},
      {"row":12,"start":2.680,"end":2.716,"kind":"pink"},
      {"row":12,"start":2.716,"end":2.806,"kind":"teal"},
      {"row":12,"start":2.806,"end":2.812,"kind":"dorange"},
      {"row":12,"start":2.812,"end":2.832,"kind":"maroon"},
      {"row":12,"start":2.832,"end":3.846,"kind":"green"},
      {"row":12,"start":3.846,"end":3.849,"kind":"dorange"},
      {"row":12,"start":3.849,"end":3.866,"kind":"purple"},
      {"row":12,"start":3.866,"end":3.872,"kind":"lime"},
      {"row":12,"start":3.872,"end":3.880,"kind":"red"},
      {"row":12,"start":3.880,"end":3.906,"kind":"purple"},
      {"row":12,"start":3.906,"end":3.910,"kind":"red"},
      {"row":12,"start":3.914,"end":3.917,"kind":"lime"},
      {"row":12,"start":3.920,"end":3.923,"kind":"red"},
      {"row":12,"start":3.930,"end":3.933,"kind":"blue"},
      {"row":12,"start":3.933,"end":3.939,"kind":"red"},

      {"row":13,"start":0.000,"end":0.007,"kind":"lime"},
      {"row":13,"start":0.007,"end":0.014,"kind":"red"},
      {"row":13,"start":0.014,"end":0.021,"kind":"maroon"},
      {"row":13,"start":0.021,"end":0.028,"kind":"red"},
      {"row":13,"start":0.129,"end":0.133,"kind":"stick"},
      {"row":13,"start":0.632,"end":0.638,"kind":"lime"},
      {"row":13,"start":0.655,"end":0.660,"kind":"blue"},
      {"row":13,"start":0.691,"end":0.695,"kind":"lime"},
      {"row":13,"start":0.714,"end":0.756,"kind":"pink"},
      {"row":13,"start":0.756,"end":0.846,"kind":"teal"},
      {"row":13,"start":0.846,"end":0.852,"kind":"dorange"},
      {"row":13,"start":0.852,"end":0.863,"kind":"maroon"},
      {"row":13,"start":0.863,"end":0.880,"kind":"purple"},
      {"row":13,"start":0.880,"end":1.912,"kind":"green"},
      {"row":13,"start":1.912,"end":1.925,"kind":"maroon"},
      {"row":13,"start":1.925,"end":1.930,"kind":"lime"},
      {"row":13,"start":1.930,"end":1.936,"kind":"red"},
      {"row":13,"start":1.936,"end":2.000,"kind":"purple"},
      {"row":13,"start":2.000,"end":2.005,"kind":"lime"},
      {"row":13,"start":2.005,"end":2.016,"kind":"maroon"},
      {"row":13,"start":2.016,"end":2.027,"kind":"red"},
      {"row":13,"start":2.128,"end":2.132,"kind":"stick"},
      {"row":13,"start":2.607,"end":2.612,"kind":"lime"},
      {"row":13,"start":2.627,"end":2.635,"kind":"red"},
      {"row":13,"start":2.655,"end":2.659,"kind":"lime"},
      {"row":13,"start":2.685,"end":2.727,"kind":"pink"},
      {"row":13,"start":2.727,"end":2.815,"kind":"teal"},
      {"row":13,"start":2.815,"end":2.823,"kind":"dorange"},
      {"row":13,"start":2.823,"end":2.846,"kind":"maroon"},
      {"row":13,"start":2.846,"end":3.874,"kind":"green"},
      {"row":13,"start":3.874,"end":3.882,"kind":"maroon"},
      {"row":13,"start":3.882,"end":3.887,"kind":"purple"},
      {"row":13,"start":3.887,"end":3.891,"kind":"lime"},
      {"row":13,"start":3.891,"end":3.901,"kind":"maroon"},
      {"row":13,"start":3.904,"end":3.936,"kind":"purple"},
      {"row":13,"start":3.936,"end":3.939,"kind":"lime"},
      {"row":13,"start":3.939,"end":3.968,"kind":"red"},

      {"row":14,"start":0.000,"end":0.038,"kind":"pink"},
      {"row":14,"start":0.038,"end":0.117,"kind":"teal"},
      {"row":14,"start":0.117,"end":0.126,"kind":"dorange"},
      {"row":14,"start":0.126,"end":0.131,"kind":"maroon"},
      {"row":14,"start":0.131,"end":0.135,"kind":"yellow"},
      {"row":14,"start":0.135,"end":1.136,"kind":"green"},
      {"row":14,"start":1.136,"end":1.144,"kind":"maroon"},
      {"row":14,"start":1.144,"end":1.167,"kind":"purple"},
      {"row":14,"start":1.941,"end":1.946,"kind":"lime"},
      {"row":14,"start":1.951,"end":1.960,"kind":"red"},
      {"row":14,"start":1.976,"end":1.982,"kind":"lime"},
      {"row":14,"start":1.987,"end":1.992,"kind":"red"},
      {"row":14,"start":2.000,"end":2.038,"kind":"pink"},
      {"row":14,"start":2.038,"end":2.117,"kind":"teal"},
      {"row":14,"start":2.117,"end":2.125,"kind":"dorange"},
      {"row":14,"start":2.125,"end":2.134,"kind":"maroon"},
      {"row":14,"start":2.134,"end":3.139,"kind":"green"},
      {"row":14,"start":3.139,"end":3.145,"kind":"maroon"},
      {"row":14,"start":3.145,"end":3.150,"kind":"red"},
      {"row":14,"start":3.150,"end":3.170,"kind":"purple"},
      {"row":14,"start":3.888,"end":3.893,"kind":"lime"},
      {"row":14,"start":3.893,"end":3.897,"kind":"red"},
      {"row":14,"start":3.903,"end":3.906,"kind":"lime"},
      {"row":14,"start":3.908,"end":3.911,"kind":"red"},
      {"row":14,"start":3.917,"end":3.922,"kind":"lime"},
      {"row":14,"start":3.936,"end":3.939,"kind":"red"},
      {"row":14,"start":3.939,"end":3.976,"kind":"pink"}
    ]
  },
  "layer": [
    {
      "data": {"name": "idle"},
      "mark": {
        "type": "bar", "orient": "horizontal", "height": 16,
        "fill": {"gradient": "linear", "x1": 0, "y1": 0, "x2": 0, "y2": 1,
          "stops": [{"offset": 0, "color": "#ffffff"}, {"offset": 0.5, "color": "#dedede"}, {"offset": 1, "color": "#ffffff"}]}
      },
      "encoding": {
        "x": {"field": "start", "type": "quantitative",
          "scale": {"domain": [0, 4.05], "nice": false, "zero": false},
          "axis": {"orient": "top", "values": [0, 1, 2, 3, 4], "format": "d", "offset": -26.5, "tickSize": 53, "tickWidth": 3.5, "tickColor": "black",
            "domain": false, "grid": false, "labelFont": "Liberation Sans", "labelFontSize": 50, "labelColor": "black", "labelPadding": -3,
            "labelFlush": false, "labelOverlap": false, "title": "Time (ms)", "titleFont": "Liberation Sans", "titleFontSize": 58,
            "titleFontWeight": "normal", "titleColor": "black", "titlePadding": 19}},
        "x2": {"field": "end"},
        "y": {"field": "row", "type": "quantitative",
          "scale": {"domain": [-3.4387, 23.656], "reverse": true, "nice": false, "zero": false},
          "axis": {"orient": "left", "values": [0, 2, 4, 6, 8, 10, 12, 14], "domain": false, "ticks": false, "grid": false,
            "labelFont": "Liberation Serif", "labelFontWeight": "bold", "labelFontSize": 33, "labelColor": "black",
            "labelAlign": "left", "labelBaseline": "middle", "labelOffset": -3, "labelPadding": 104, "labelFlush": false, "labelOverlap": false, "title": null}}
      }
    },
    {
      "data": {"name": "segs"},
      "mark": {"type": "bar", "orient": "horizontal", "height": 21, "stroke": "#ffffff", "strokeOpacity": 0.35, "strokeWidth": 0.6},
      "encoding": {
        "x": {"field": "start", "type": "quantitative",
          "scale": {"domain": [0, 4.05], "nice": false, "zero": false},
          "axis": {"orient": "top", "values": [0.2, 0.4, 0.6, 0.8, 1.2, 1.4, 1.6, 1.8, 2.2, 2.4, 2.6, 2.8, 3.2, 3.4, 3.6, 3.8],
            "offset": -18, "tickSize": 36, "tickWidth": 2, "tickColor": "black", "domain": false, "labels": false, "grid": false, "title": null}},
        "x2": {"field": "end"},
        "y": {"field": "row", "type": "quantitative", "axis": null},
        "color": {"field": "kind", "type": "nominal", "legend": null,
          "scale": {"domain": ["green", "orange", "teal", "pink", "purple", "maroon", "red", "lime", "blue", "dorange", "yellow", "stick"],
            "range": ["#06612F", "#CD883B", "#2B799A", "#FFC0CB", "#8B1ECF", "#8E2B6E", "#E8432C", "#63D33C", "#3F3FDE", "#FF7F0E", "#E5E02A", "#D3A04B"]}}
      }
    },
    {
      "data": {"name": "tips"},
      "mark": {"type": "point", "filled": true, "opacity": 1, "size": 441, "strokeWidth": 0},
      "encoding": {
        "x": {"field": "t", "type": "quantitative",
          "scale": {"domain": [0, 4.05], "nice": false, "zero": false},
          "axis": {"orient": "top", "offset": 0, "domain": true, "domainWidth": 5, "domainColor": "black", "ticks": false, "labels": false, "grid": false, "title": null}},
        "y": {"field": "row", "type": "quantitative", "axis": null},
        "shape": {"field": "dir", "type": "nominal", "legend": null,
          "scale": {"domain": ["left", "right"], "range": ["M0,-1 L-1,0 L0,1 Z", "M0,-1 L1,0 L0,1 Z"]}},
        "color": {"field": "kind", "type": "nominal", "legend": null}
      }
    },
    {
      "data": {"values": [{"part": "time axis arrow"}]},
      "mark": {"type": "point", "filled": true, "opacity": 1, "size": 1600, "strokeWidth": 0, "color": "black", "shape": "M0,-0.7 L2,0 L0,0.7 Z"},
      "encoding": {
        "x": {"datum": 4.04, "type": "quantitative", "axis": null},
        "y": {"datum": -3.4387, "type": "quantitative", "axis": null}
      }
    },
    {
      "data": {"name": "notes"},
      "mark": {"type": "rule", "color": "black", "strokeWidth": 4.5},
      "encoding": {
        "x": {"field": "tail_t", "type": "quantitative", "axis": null},
        "y": {"field": "tail_r", "type": "quantitative", "axis": null},
        "x2": {"field": "head_t"},
        "y2": {"field": "head_r"}
      }
    },
    {
      "data": {"name": "notes"},
      "transform": [{"filter": "datum.label == 'Material Force Calculation'"}],
      "mark": {"type": "point", "filled": true, "opacity": 1, "size": 900, "strokeWidth": 0, "color": "black", "shape": "M-0.73,0 L0,-2 L0.73,0 Z", "angle": 0},
      "encoding": {
        "x": {"field": "head_t", "type": "quantitative", "axis": null},
        "y": {"field": "head_r", "type": "quantitative", "axis": null}
      }
    },
    {
      "data": {"name": "notes"},
      "transform": [{"filter": "datum.label == 'Penalty Force Calculation'"}],
      "mark": {"type": "point", "filled": true, "opacity": 1, "size": 900, "strokeWidth": 0, "color": "black", "shape": "M-0.73,0 L0,-2 L0.73,0 Z", "angle": -27.8},
      "encoding": {
        "x": {"field": "head_t", "type": "quantitative", "axis": null},
        "y": {"field": "head_r", "type": "quantitative", "axis": null}
      }
    },
    {
      "data": {"name": "notes"},
      "mark": {"type": "text", "font": "Liberation Sans", "fontSize": 64, "color": "black", "align": "center", "baseline": "alphabetic"},
      "encoding": {
        "x": {"field": "text_t", "type": "quantitative", "axis": null},
        "y": {"field": "text_r", "type": "quantitative", "axis": null},
        "text": {"field": "label"}
      }
    }
  ],
  "resolve": {"axis": {"x": "independent", "y": "independent"}}
}
